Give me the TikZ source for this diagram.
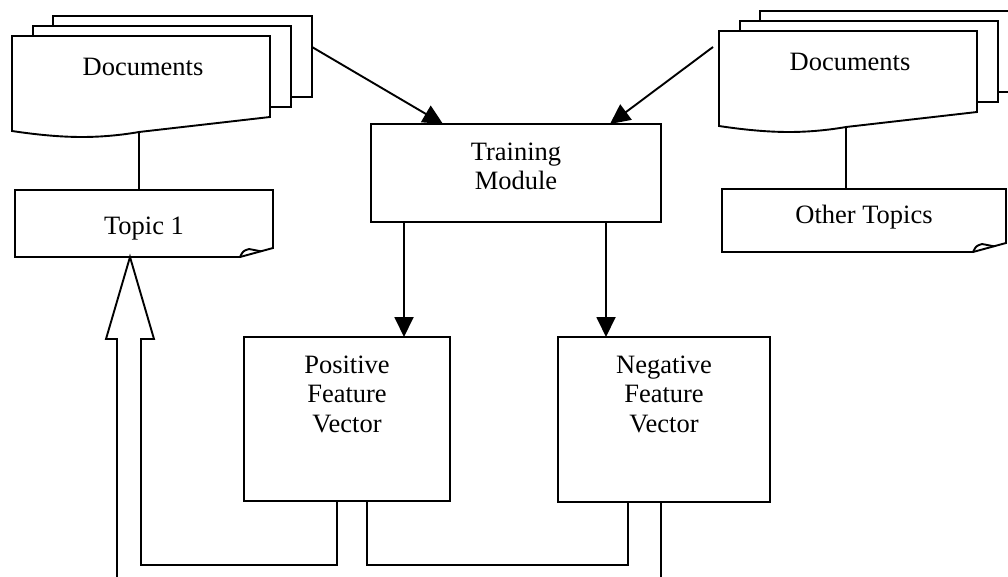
\documentclass[tikz,border=0pt]{standalone}
\usepackage{fontspec}
\setmainfont{Liberation Serif}
\usepackage{tikz}
\usetikzlibrary{positioning, calc, arrows.meta}

% stack of three pages, front page with a wavy foot
\newcommand{\docstack}[3]{%
  \begin{scope}[shift={#2}]
    \draw[page] (41,-20) rectangle ++(259,81);
    \draw[page] (21,-10) rectangle ++(258,81);
    \draw[page] (0,0) -- (258,0) -- (258,81) -- (127,96)
      .. controls (110,99) and (90,101) .. (70,101)
      .. controls (45,101) and (20,98) .. (0,95) -- cycle;
    \coordinate (#1foot) at (127,96);
    \node[lbl, anchor=base] (#1) at (131,40) {#3};
  \end{scope}}

% frame with a folded lower right corner
\newcommand{\foldframe}[1]{%
  \draw[line join=miter] (#1.north west) -- (#1.north east) -- ([yshift=9pt]#1.south east)
    -- ([xshift=-33pt]#1.south east) -- (#1.south west) -- cycle;
  \draw ([xshift=-33pt]#1.south east)
    .. controls ([xshift=-30pt,yshift=6pt]#1.south east) .. ([xshift=-24pt,yshift=8pt]#1.south east)
    -- ([xshift=-12pt,yshift=5.7pt]#1.south east);}

\begin{document}
\begin{tikzpicture}[x=1pt, y=-1pt, line width=1.9pt,
    page/.style={draw, fill=white, line join=miter},
    lbl/.style={font=\fontsize{26.5}{29.5}\selectfont, inner sep=0pt, align=center},
    topic/.style={lbl, outer sep=0pt, anchor=north west},
    box/.style={draw, inner sep=0pt, outer sep=0pt, anchor=north west},
    arr/.style={-{Triangle[length=20pt,width=19pt]}}]
    \fill[white] (0,0) rectangle (1008,577);
    \useasboundingbox (0,0) rectangle (1008,577);

    % document stacks
    \docstack{docsA}{(12,36)}{Documents}
    \docstack{docsB}{(719,31)}{Documents}
    \coordinate (docsAout) at (312,47);
    \coordinate (docsBout) at (713,47);

    % topics
    \node[topic, text height=44pt, text depth=23pt, minimum width=258pt] (topic1) at (15,190) {Topic 1};
    \node[topic, text height=35pt, text depth=28pt, minimum width=284pt] (others) at (722,189) {Other Topics};
    \foldframe{topic1}
    \foldframe{others}
    \draw (docsAfoot) -- (docsAfoot |- topic1.north);
    \draw (docsBfoot) -- (docsBfoot |- others.north);

    % training and feature vectors
    \node[box, minimum width=290pt, minimum height=98pt] (train) at (371,124) {};
    \node[lbl, anchor=north, below=18pt of train.north] (trainlbl) {Training\\Module};
    \node[box, minimum width=206pt, minimum height=164pt] (posvec) at (244,337) {};
    \node[lbl, anchor=north, below=18pt of posvec.north] (poslbl) {Positive\\Feature\\Vector};
    \node[box, minimum width=212pt, minimum height=165pt] (negvec) at (558,337) {};
    \node[lbl, anchor=north, below=18pt of negvec.north] (neglbl) {Negative\\Feature\\Vector};

    \draw[arr] (docsAout) -- ([xshift=-73pt]train.north);
    \draw[arr] (docsBout) -- ([xshift=94pt]train.north);
    \draw[arr] ([xshift=-112pt]train.south) -- ([xshift=-112pt]train.south |- posvec.north);
    \draw[arr] ([xshift=90pt]train.south) -- ([xshift=90pt]train.south |- negvec.north);

    % hollow return arrow
    \coordinate (tip) at ([xshift=-14pt]topic1.south);
    \draw[line join=miter] (117,580) -- (117,339) -- (106,339) -- (tip) -- (154,339) -- (141,339)
      -- (141,565) -- (337,565) -- (337,0 |- posvec.south);
    \draw (367,0 |- posvec.south) -- (367,565) -- (628,565) -- (628,0 |- negvec.south);
    \draw (661,0 |- negvec.south) -- (661,580);
\end{tikzpicture}
\end{document}
